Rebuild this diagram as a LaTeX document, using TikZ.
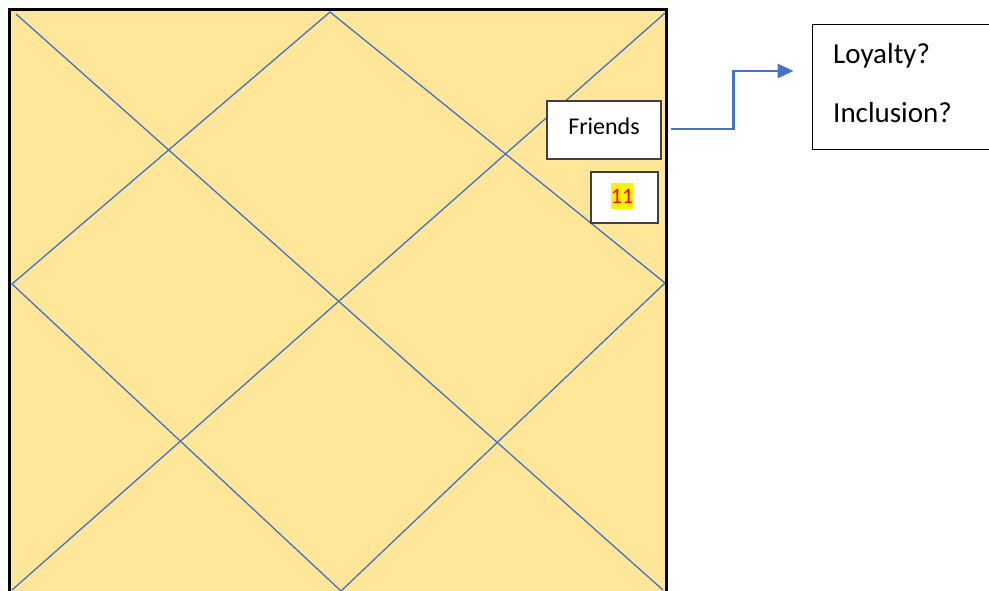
\documentclass[tikz,border=0pt]{standalone}
\usepackage{fontspec}
\setmainfont{Carlito}
\usetikzlibrary{arrows.meta}
\definecolor{gold}{HTML}{FFE699}
\definecolor{lineblue}{HTML}{4472C4}
\definecolor{boxgray}{HTML}{404040}
\tikzset{
  gridline/.style={draw=lineblue, line width=1.3pt},
  frame/.style={draw=black, line width=3pt},
  labelbox/.style={draw=boxgray, line width=1.5pt, fill=white, inner sep=0pt},
  notebox/.style={draw=black, line width=1pt, fill=white, inner sep=0pt},
  conn/.style={draw=lineblue, line width=2.8pt, -{Triangle[length=16pt,width=14pt]}},
}
\begin{document}
\begin{tikzpicture}[x=1pt,y=-1pt]
\clip (0,0) rectangle (989,590);
\fill[white] (0,0) rectangle (989,590);
\fill[gold] (10,10) rectangle (666,600);
% diagonals
\coordinate (tl) at (16,14);
\coordinate (br) at (663,590);
\coordinate (tr) at (665,13);
\coordinate (bl) at (12,590);
\draw[gridline] (tl) -- (br);
\draw[gridline] (tr) -- (bl);
% diamond
\coordinate (dt) at (330,12);
\coordinate (dl) at (12,284);
\coordinate (db) at (341,591);
\coordinate (dr) at (665,283);
\draw[gridline] (dt) -- (dl) -- (db) -- (dr) -- cycle;
% frame
\draw[frame] (9.5,9.5) rectangle (666.5,600);
% boxes
\node[labelbox, minimum width=114, minimum height=58, text height=17pt, text depth=9pt,
      font=\fontsize{24}{28}\selectfont] (friends) at (604,130) {Friends};
\node[labelbox, minimum width=67, minimum height=51] (eleven) at (624.5,197.5) {};
\node[fill=yellow, text=red, inner sep=0pt, minimum width=22, minimum height=26,
      font=\fontsize{22}{25}\selectfont] (num) at (622,196) {11};
\node[notebox, minimum width=190, minimum height=125] (rb) at (907,86.5) {};
\node[anchor=base west, inner sep=0pt, font=\fontsize{29}{33}\selectfont] (loy) at (833,63) {Loyalty?};
\node[anchor=base west, inner sep=0pt, font=\fontsize{29}{33}\selectfont] (inc) at (833,122) {Inclusion?};
% connector
\draw[conn, shorten >=18pt] ([xshift=9pt,yshift=1pt]friends.east) -- ++(63,0) |- ([yshift=15.5pt]rb.west);
\end{tikzpicture}
\end{document}
